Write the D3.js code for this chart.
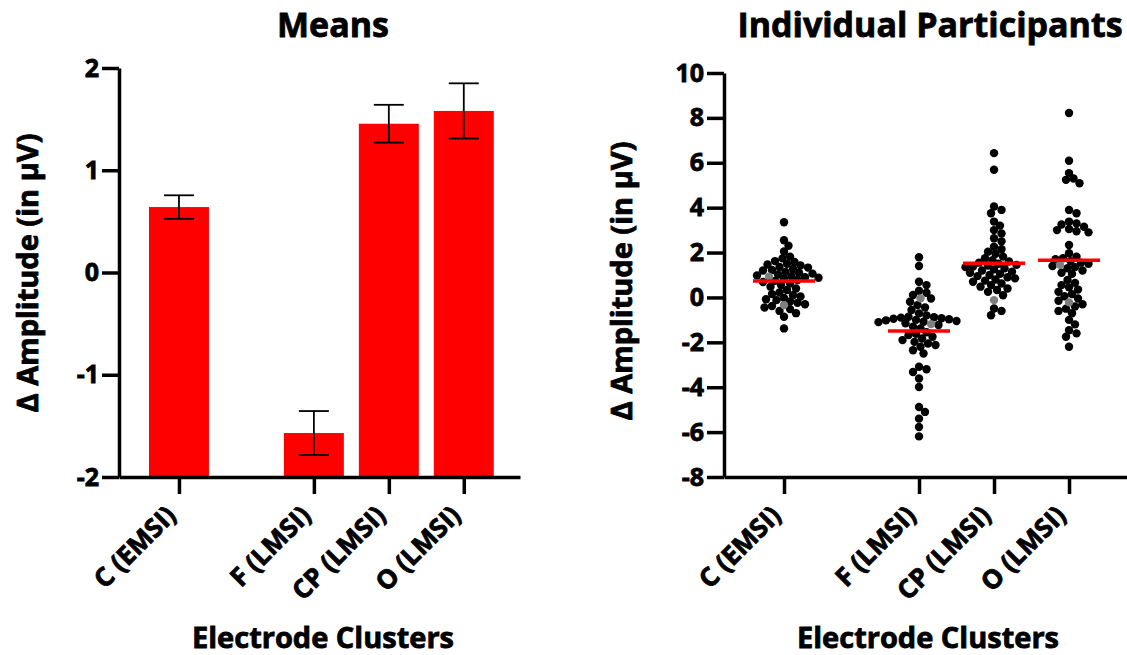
<!DOCTYPE html>
<html>
<head>
<meta charset="utf-8">
<title>Means and Individual Participants</title>
<script src="https://d3js.org/d3.v7.min.js"></script>
<style>
  body { margin: 0; background: #fff; }
  svg text { font-family: "Open Sans", "Liberation Sans", sans-serif; font-weight: 700; fill: #000;
    stroke: #000; stroke-width: 0.8px; }
  .axis path, .axis line { stroke: #000; stroke-width: 3.5px; }
  .axis text { font-size: 25px; }
</style>
</head>
<body>
<svg width="1127" height="655"></svg>
<script>

// ---- data ----
var categories = ["C (EMSI)", "F (LMSI)", "CP (LMSI)", "O (LMSI)"];
var slots = [0, 1.8, 2.8, 3.8];          // position of each cluster along the x axis
var means = [0.64, -1.57, 1.455, 1.58];
var sem = [0.115, 0.215, 0.185, 0.27];
var indivMeans = [0.73, -1.49, 1.52, 1.66];

var meansTicks = [-2, -1, 0, 1, 2];
var indivTicks = [-8, -6, -4, -2, 0, 2, 4, 6, 8, 10];

var cEmsi = [3.35, 2.55, 2.3, 2.05, 1.82, 1.74, 1.62, 1.58, 1.5, 1.47, 1.42, 1.36, 1.33, 1.27, 1.22, 1.2,
  1.14, 1.1, 1.06, 1.02, 0.98, 0.95, 0.9, 0.88, 0.83, 0.78, 0.74, 0.69, 0.62, 0.55, 0.48, 0.4, 0.33, 0.22,
  0.15, 0.1, 0.04, -0.02, -0.08, -0.12, -0.18, -0.24, -0.3, -0.38, -0.45, -0.52, -0.6, -0.7, -0.86, -1.38];
var fLmsi = [1.79, 1.4, 0.7, 0.55, 0.3, 0.21, 0.11, -0.05, -0.19, -0.34, -0.45, -0.56, -0.71, -0.8, -0.86,
  -0.88, -0.9, -0.93, -0.95, -0.97, -1.0, -1.02, -1.05, -1.08, -1.1, -1.15, -1.23, -1.3, -1.38, -1.55, -1.62,
  -1.68, -1.75, -1.83, -1.9, -1.98, -2.05, -2.12, -2.2, -2.35, -2.5, -3.09, -3.2, -3.32, -3.61, -3.99, -4.88,
  -5.1, -5.4, -5.77, -6.19];
var cpLmsi = [6.43, 5.69, 4.05, 3.9, 3.75, 3.38, 3.2, 3.0, 2.85, 2.64, 2.5, 2.26, 2.15, 2.04, 1.95, 1.82,
  1.75, 1.66, 1.6, 1.55, 1.5, 1.45, 1.42, 1.38, 1.35, 1.3, 1.25, 1.2, 1.15, 1.1, 1.05, 1.0, 0.95, 0.9, 0.85,
  0.8, 0.75, 0.7, 0.62, 0.55, 0.48, 0.4, 0.33, 0.25, 0.1, -0.49, -0.6, -0.79];
var oLmsi = [8.22, 6.09, 5.54, 5.3, 5.24, 5.09, 3.9, 3.75, 3.38, 3.3, 3.25, 3.15, 3.05, 3.0, 2.95, 2.9,
  2.34, 1.97, 1.82, 1.75, 1.7, 1.62, 1.55, 1.5, 1.4, 1.35, 1.3, 1.2, 1.1, 1.05, 0.78, 0.65, 0.55, 0.45,
  0.35, 0.25, 0.15, 0.05, -0.05, -0.15, -0.3, -0.4, -0.5, -0.6, -0.7, -1.0, -1.2, -1.46, -1.6, -1.75, -2.2];
// a few participants drawn in grey
var greyPoints = [[0.92, -0.34], [-0.04, -1.19], [-0.12], [1.45, -0.22]];

var participants = [cEmsi, fLmsi, cpLmsi, oLmsi];

var svg = d3.select("svg");
var plain = function(d) { return String(d); };   // hyphen minus, like the original

// ---------- left panel: means ----------
var yL = d3.scaleLinear().domain([-2, 2]).range([477, 68]);
var xL = d3.scaleLinear().domain([-0.8, 4.55]).range([119, 520]);

svg.append("g").attr("class", "axis")
  .attr("transform", "translate(119,0)")
  .call(d3.axisLeft(yL).tickValues(meansTicks).tickSize(17).tickSizeOuter(0).tickPadding(3).tickFormat(plain));

var barW = xL(0.4) - xL(0);
svg.selectAll(".bar").data(means).enter().append("rect")
  .attr("class", "bar")
  .attr("x", function(d, i) { return xL(slots[i]) - barW; })
  .attr("width", barW * 2)
  .attr("y", function(d) { return yL(d); })
  .attr("height", function(d) { return yL(-2) - yL(d); })
  .attr("fill", "#fe0000");

var eb = svg.selectAll(".err").data(means).enter().append("g").attr("class", "err")
  .attr("stroke", "#000").attr("stroke-width", 1.8);
eb.append("line")
  .attr("x1", function(d, i) { return xL(slots[i]); })
  .attr("x2", function(d, i) { return xL(slots[i]); })
  .attr("y1", function(d, i) { return yL(d + sem[i]); })
  .attr("y2", function(d, i) { return yL(d - sem[i]); });
[1, -1].forEach(function(s) {
  eb.append("line")
    .attr("x1", function(d, i) { return xL(slots[i]) - 15; })
    .attr("x2", function(d, i) { return xL(slots[i]) + 15; })
    .attr("y1", function(d, i) { return yL(d + s * sem[i]); })
    .attr("y2", function(d, i) { return yL(d + s * sem[i]); });
});

// ---------- right panel: individual participants ----------
var yR = d3.scaleLinear().domain([-8, 10]).range([477, 73]);
var xR = d3.scaleLinear().domain([-0.8, 4.573]).range([724, 1127]);

svg.append("g").attr("class", "axis")
  .attr("transform", "translate(724,0)")
  .call(d3.axisLeft(yR).tickValues(indivTicks).tickSize(17).tickSizeOuter(0).tickPadding(3).tickFormat(plain));

// simple beeswarm so dots do not pile on one another
function swarm(pts, cx, y, minD) {
  var placed = [];
  pts.slice().sort(function(a, b) { return b.v - a.v; }).forEach(function(p) {
    var py = y(p.v);
    for (var k = 0; k < 200; k++) {
      var off = (k % 2 ? 1 : -1) * Math.ceil(k / 2) * 1.5;
      var ok = placed.every(function(q) {
        var dx = q.x - (cx + off), dy = q.y - py;
        return dx * dx + dy * dy >= minD * minD;
      });
      if (ok) { p.x = cx + off; p.y = py; placed.push(p); break; }
    }
  });
  return pts;
}

participants.forEach(function(vals, i) {
  var pts = vals.map(function(v) { return { v: v, grey: false }; })
    .concat(greyPoints[i].map(function(v) { return { v: v, grey: true }; }));
  swarm(pts, xR(slots[i]), yR, 6.9);
  svg.append("g").selectAll("circle").data(pts).enter().append("circle")
    .attr("cx", function(d) { return d.x; })
    .attr("cy", function(d) { return d.y; })
    .attr("r", 4.2)
    .attr("fill", function(d) { return d.grey ? "#7f7f7f" : "#000"; });
});

svg.selectAll(".meanline").data(indivMeans).enter().append("line")
  .attr("class", "meanline")
  .attr("x1", function(d, i) { return xR(slots[i]) - 31; })
  .attr("x2", function(d, i) { return xR(slots[i]) + 31; })
  .attr("y1", function(d) { return yR(d); })
  .attr("y2", function(d) { return yR(d); })
  .attr("stroke", "#fe0000").attr("stroke-width", 3.5);

// ---------- shared pieces: x axes, titles ----------
[[xL, 333, 323, 38, 273, "Means"], [xR, 930, 928, 632, 281, "Individual Participants"]].forEach(function(p) {
  var x = p[0];
  var ax = svg.append("g").attr("class", "axis")
    .attr("transform", "translate(0,477)")
    .call(d3.axisBottom(x).tickValues(slots).tickSize(17).tickSizeOuter(0)
      .tickFormat(function(d, i) { return categories[i]; }));
  ax.selectAll("text")
    .attr("text-anchor", "end")
    .attr("x", 0).attr("y", 0).attr("dy", 0)
    .style("font-size", "26px")
    .attr("transform", "translate(-2,40) rotate(-45)");

  svg.append("text").attr("x", p[1]).attr("y", 37)
    .attr("text-anchor", "middle").style("font-size", "34px").text(p[5]);
  svg.append("text").attr("x", p[2]).attr("y", 648)
    .attr("text-anchor", "middle").style("font-size", "29px").text("Electrode Clusters");
  svg.append("text")
    .attr("transform", "translate(" + p[3] + "," + p[4] + ") rotate(-90)")
    .attr("text-anchor", "middle").style("font-size", "29px").text("\u0394 Amplitude (in \u03bcV)");
});

</script>
</body>
</html>
